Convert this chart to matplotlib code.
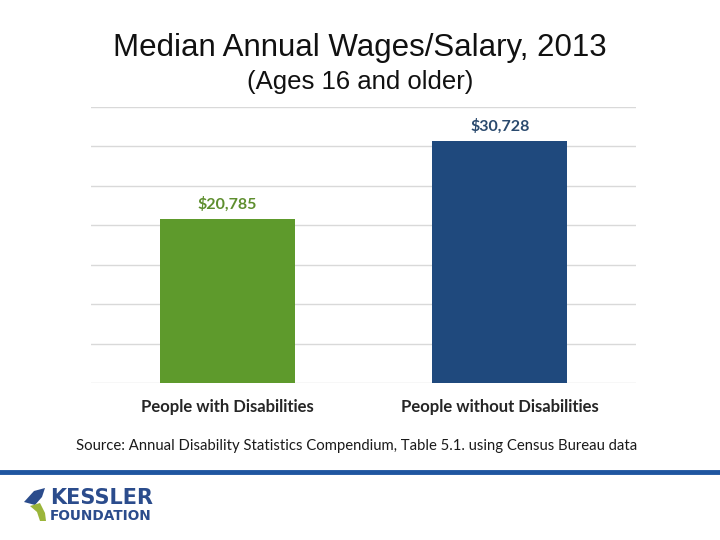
import matplotlib
matplotlib.use("Agg")
import matplotlib.pyplot as plt
from matplotlib.patches import Polygon

categories = ["People with Disabilities", "People without Disabilities"]
values = [20785, 30728]
value_labels = ["$20,785", "$30,728"]
bar_colors = ["#5E9A2C", "#1F497D"]
label_colors = ["#5E8E2E", "#2A4A6E"]
title = "Median Annual Wages/Salary, 2013"
subtitle = "(Ages 16 and older)"
source = "Source: Annual Disability Statistics Compendium, Table 5.1. using Census Bureau data"

fig = plt.figure(figsize=(7.2, 5.4), dpi=100)
ax = fig.add_axes([91/720, 1-383/540, (636-91)/720, (383-107)/540])

x = range(len(categories))
ax.bar(x, values, width=0.495, color=bar_colors, zorder=3)
ax.set_xlim(-0.5, 1.5)
ax.set_ylim(0, 35000)
ax.set_yticks(range(0, 35001, 5000))
ax.yaxis.grid(True, color="#D9D9D9", linewidth=1, zorder=0)
ax.tick_params(left=False, labelleft=False, bottom=False)
for s in ax.spines.values():
    s.set_visible(False)
ax.set_xticks(list(x))
ax.set_xticklabels(categories, fontfamily="Lato", fontweight="bold", fontsize=12, color="#262626")
ax.tick_params(axis="x", pad=8)

for xi, v, lab, c in zip(x, values, value_labels, label_colors):
    ax.annotate(lab, (xi, v), xytext=(0, 5), textcoords="offset points",
                ha="center", va="bottom", fontfamily="Lato", fontweight="bold",
                fontsize=11.5, color=c)

fig.text(0.5, 1-56/540, title, ha="center", va="baseline", fontfamily="Liberation Sans",
         fontsize=22.5, color="#111111")
fig.text(0.5, 1-89.5/540, subtitle, ha="center", va="baseline", fontfamily="Liberation Sans",
         fontsize=18.5, color="#111111")
fig.text(357/720, 1-446/540, source, ha="center", va="center", fontfamily="Lato",
         fontsize=10.75, color="#1a1a1a")

# bottom band line
fig.add_artist(plt.Line2D([0, 1], [1-472/540, 1-472/540], color="#1F56A0", linewidth=3.5,
                          transform=fig.transFigure))

# logo
def fx(px):
    return px/720
def fy(py):
    return 1-py/540
blue_shape = [(24, 502), (34, 491), (45, 488), (42, 497), (35, 505)]
green_shape = [(30, 506), (40, 503), (45, 513), (46, 521), (40, 521), (37, 512)]
fig.add_artist(Polygon([(fx(a), fy(b)) for a, b in blue_shape], closed=True,
                       facecolor="#2B4C8C", edgecolor="none", transform=fig.transFigure))
fig.add_artist(Polygon([(fx(a), fy(b)) for a, b in green_shape], closed=True,
                       facecolor="#9BB53A", edgecolor="none", transform=fig.transFigure))
fig.text(fx(50), fy(498), "KESSLER", ha="left", va="center", fontfamily="DejaVu Sans",
         fontweight="bold", fontsize=15, color="#2B4C8C")
fig.text(fx(50), fy(516.5), "FOUNDATION", ha="left", va="center", fontfamily="DejaVu Sans",
         fontweight="bold", fontsize=9.8, color="#2B4C8C")

fig.savefig("out.png", dpi=100)
